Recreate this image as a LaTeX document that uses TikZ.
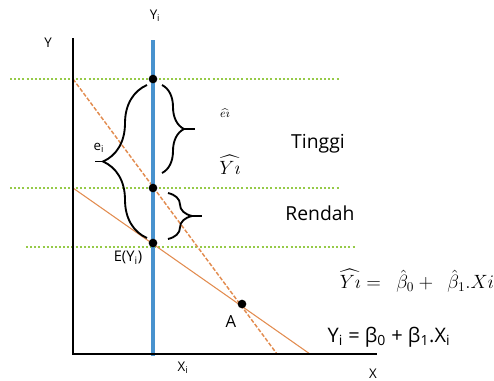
\documentclass[tikz,border=0pt]{standalone}
\usepackage{fontspec}
\setmainfont{Open Sans}
\usepackage{amsmath}
\usetikzlibrary{positioning, decorations.pathreplacing}
\definecolor{LineBlue}{RGB}{72,146,206}
\definecolor{GuideGreen}{RGB}{150,202,72}
\definecolor{FitOrange}{RGB}{226,140,80}
\tikzset{
  axis/.style={black, line width=1.5pt},
  ybar/.style={LineBlue, line width=3pt},
  guide/.style={GuideGreen, line width=1.4pt, dash pattern=on 1.5pt off 1.6pt},
  fitline/.style={FitOrange, line width=0.8pt},
  estline/.style={FitOrange, line width=1.1pt, dash pattern=on 3pt off 1.4pt},
  dot/.style={circle, fill=black, inner sep=0pt, minimum size=6.5pt},
  brc/.style={decorate, decoration={brace, amplitude=#1}, line width=1.4pt},
  tick/.style={line width=1.4pt},
  lbl/.style={inner sep=1pt, font=\fontsize{10}{12}\selectfont},
  biglbl/.style={inner sep=1pt, font=\fontsize{14.5}{17}\selectfont},
  mathlbl/.style={inner sep=1pt, font=\fontsize{#1}{#1}\selectfont},
}
\begin{document}
\begin{tikzpicture}[x=0.75pt, y=-0.75pt]
  \useasboundingbox (0,0) rectangle (494,380);
  \coordinate (O) at (73,354);
  \coordinate (Ytop) at (73,38);
  \coordinate (Xend) at (377,354);
  \coordinate (Btop) at (153,40);
  \coordinate (Bbot) at (153,356);
  \coordinate (g1a) at (10,79);  \coordinate (g1b) at (340,79);
  \coordinate (g2a) at (10,188); \coordinate (g2b) at (340,188);
  \coordinate (g3a) at (26,247); \coordinate (g3b) at (355,247);
  \coordinate (e1) at (73,79);  \coordinate (e2) at (277,354);
  \coordinate (f1) at (73,188); \coordinate (f2) at (310,354);

  \draw[guide] (g1a) -- (g1b);
  \draw[guide] (g2a) -- (g2b);
  \draw[guide] (g3a) -- (g3b);
  \draw[estline] (e1) -- (e2);
  \draw[fitline] (f1) -- (f2);
  \draw[ybar] (Btop) -- (Bbot);
  \draw[axis] (Ytop) -- (O) -- (Xend);

  \node[dot] (pT) at (153,79) {};
  \node[dot] (pM) at (153,188) {};
  \node[dot] (pE) at (153,243) {};
  \node[dot] (pA) at (242,304) {};

  % braces
  \coordinate (bl1) at (147,238); \coordinate (bl2) at (147,85);
  \coordinate (bu1) at (162,85);  \coordinate (bu2) at (162,173);
  \coordinate (bd1) at (168,193); \coordinate (bd2) at (168,239);
  \draw[brc=33pt] (bl1) -- (bl2);
  \draw[brc=16.5pt] (bu1) -- (bu2);
  \draw[brc=18pt] (bd1) -- (bd2);
  \draw[tick] (103,161.5) -- (95,161.5);
  \draw[tick] (184,129) -- (195,129);
  \draw[tick] (192,216) -- (202,216);

  \node[lbl] (yl) at (48,43) {Y};
  \node[lbl] (yil) at (155,16) {Y\textsubscript{i}};
  \node[lbl] (xil) at (183,368) {X\textsubscript{i}};
  \node[lbl] (xl) at (373,374) {X};
  \node[lbl] (eil) at (99,148) {e\textsubscript{i}};
  \node[lbl, font=\fontsize{11}{13}\selectfont] (eyl) at (128,258) {E(Y\textsubscript{i})};
  \node[lbl, font=\fontsize{12.5}{14}\selectfont] (al) at (231,322) {A};
  \node[mathlbl=9] (ehat) at (225,113) {$\widehat{e\imath}$};
  \node[mathlbl=14] (yhat) at (230,165) {$\widehat{Y\imath}$};
  \node[biglbl] (hi) at (318,144) {Tinggi};
  \node[biglbl] (lo) at (320,213) {Rendah};
  \node[mathlbl=14.5] (eqhat) at (417,281)
    {$\widehat{Y\imath} = \ \ \hat{\beta}_0 + \ \ \hat{\beta}_1.Xi$};
  \node[lbl, font=\fontsize{15}{17}\selectfont] (eqpop) at (389,337)
    {Y\textsubscript{i} = β\textsubscript{0} + β\textsubscript{1}.X\textsubscript{i}};
\end{tikzpicture}
\end{document}
